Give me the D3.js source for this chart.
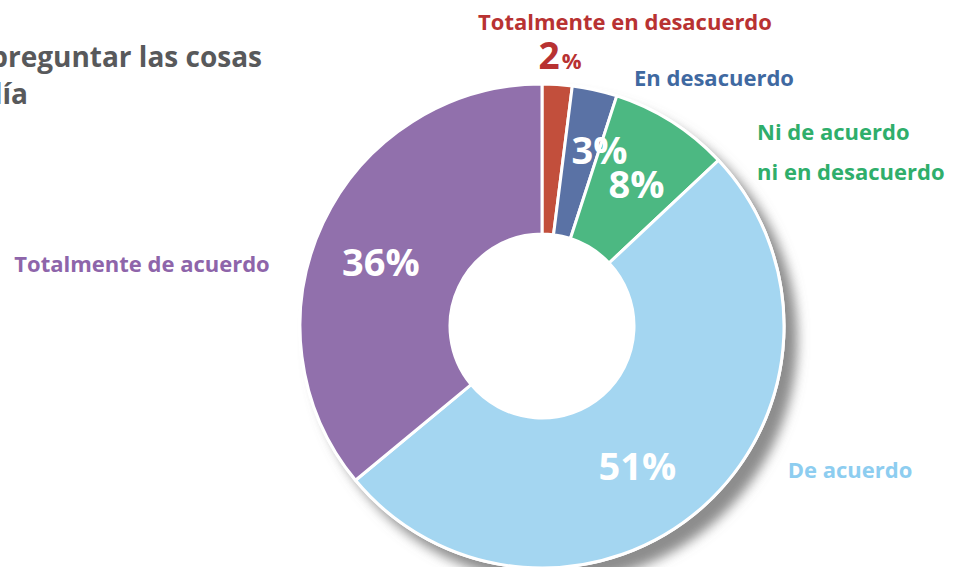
<!DOCTYPE html>
<html>
<head>
<meta charset="utf-8">
<script src="https://cdn.jsdelivr.net/npm/d3@7"></script>
<style>
  html, body { margin: 0; padding: 0; background: #fff; }
  svg { display: block; font-family: "Open Sans", "Noto Sans", sans-serif; }
</style>
</head>
<body>
<div id="chart"></div>
<script>
// data, clockwise from the top
var categories = ["Totalmente en desacuerdo", "En desacuerdo", "Ni de acuerdo ni en desacuerdo", "De acuerdo", "Totalmente de acuerdo"];
var values = [2, 3, 8, 51, 36];
var sliceColors = ["#c24f3c", "#5a72a5", "#4cb882", "#a4d6f1", "#9170ac"];
var labelColors = ["#b83232", "#3f69a1", "#2fae6b", "#8dcdf0", "#8e65aa"];
var labelLines = [["Totalmente en desacuerdo"], ["En desacuerdo"], ["Ni de acuerdo", "ni en desacuerdo"], ["De acuerdo"], ["Totalmente de acuerdo"]];
var titleLines = ["preguntar las cosas", "día"];

function init(){
    var w = 964;
    var h = 567;
    var cx = 542, cy = 326;
    var outerR = 242, innerR = 92;

    var svg = d3.select("#chart")
        .append("svg")
        .attr("width", w)
        .attr("height", h);

    var defs = svg.append("defs");
    var f = defs.append("filter")
        .attr("id", "shadow")
        .attr("x", "-20%").attr("y", "-20%")
        .attr("width", "150%").attr("height", "150%");
    f.append("feDropShadow")
        .attr("dx", 12).attr("dy", 13)
        .attr("stdDeviation", 6)
        .attr("flood-color", "#707070")
        .attr("flood-opacity", 0.8);

    // title (cut off on the left)
    svg.append("g").selectAll("text")
        .data(titleLines)
        .enter().append("text")
        .attr("x", function(d, i){ return i == 0 ? 262 : 28; })
        .attr("y", function(d, i){ return 67 + i * 37; })
        .attr("text-anchor", "end")
        .attr("font-size", "28px")
        .attr("font-weight", "bold")
        .attr("fill", "#58595b")
        .text(function(d){ return d; });

    var pie = d3.pie().sort(null).value(function(d){ return d; });
    var arcs = pie(values);

    var arc = d3.arc().innerRadius(innerR).outerRadius(outerR);

    var g = svg.append("g")
        .attr("transform", "translate(" + cx + "," + cy + ")");

    // shadow layer
    g.append("circle")
        .attr("r", outerR + 1.5)
        .attr("fill", "#fff")
        .attr("filter", "url(#shadow)");

    g.selectAll("path.slice")
        .data(arcs)
        .enter().append("path")
        .attr("class", "slice")
        .attr("d", arc)
        .attr("fill", function(d, i){ return sliceColors[i]; })
        .attr("stroke", "#fff")
        .attr("stroke-width", 3)
        .attr("stroke-linejoin", "round");

    // percentages inside the slices (centroid + nudge)
    var nudge = [null, [21, -13], [5, -1], [-15, 15], [-10, 7]];
    g.selectAll("text.pct")
        .data(arcs.slice(1))
        .enter()
        .append("text")
        .attr("class", "pct")
        .attr("transform", function(d, k){
            var c = arc.centroid(d);
            return "translate(" + (c[0] + nudge[k + 1][0]) + "," + (c[1] + nudge[k + 1][1]) + ")";
        })
        .attr("text-anchor", "middle")
        .attr("dy", "0.36em")
        .attr("font-size", "38px")
        .attr("font-weight", "bold")
        .attr("fill", "#fff")
        .text(function(d){ return d.value + "%"; });

    // category labels outside
    var labelPos = [[625, 30], [714, 86], [757, 140], [850, 478], [142, 272]];
    var labelAnchor = ["middle", "middle", "start", "middle", "middle"];
    labelLines.forEach(function(lines, i){
        var t = svg.append("text")
            .attr("x", labelPos[i][0])
            .attr("y", labelPos[i][1])
            .attr("text-anchor", labelAnchor[i])
            .attr("font-size", "22px")
            .attr("font-weight", "bold")
            .attr("fill", labelColors[i]);
        lines.forEach(function(l, j){
            t.append("tspan")
                .attr("x", labelPos[i][0])
                .attr("dy", j == 0 ? 0 : 40)
                .text(l);
        });
    });

    // small slice value shown outside, above the slice
    var small = svg.append("text")
        .attr("x", 560)
        .attr("y", 69)
        .attr("text-anchor", "middle")
        .attr("font-weight", "bold")
        .attr("fill", labelColors[0]);
    small.append("tspan").attr("font-size", "37px").text(values[0]);
    small.append("tspan").attr("font-size", "22px").attr("dx", 2).text("%");
}
window.onload = init;
</script>
</body>
</html>
